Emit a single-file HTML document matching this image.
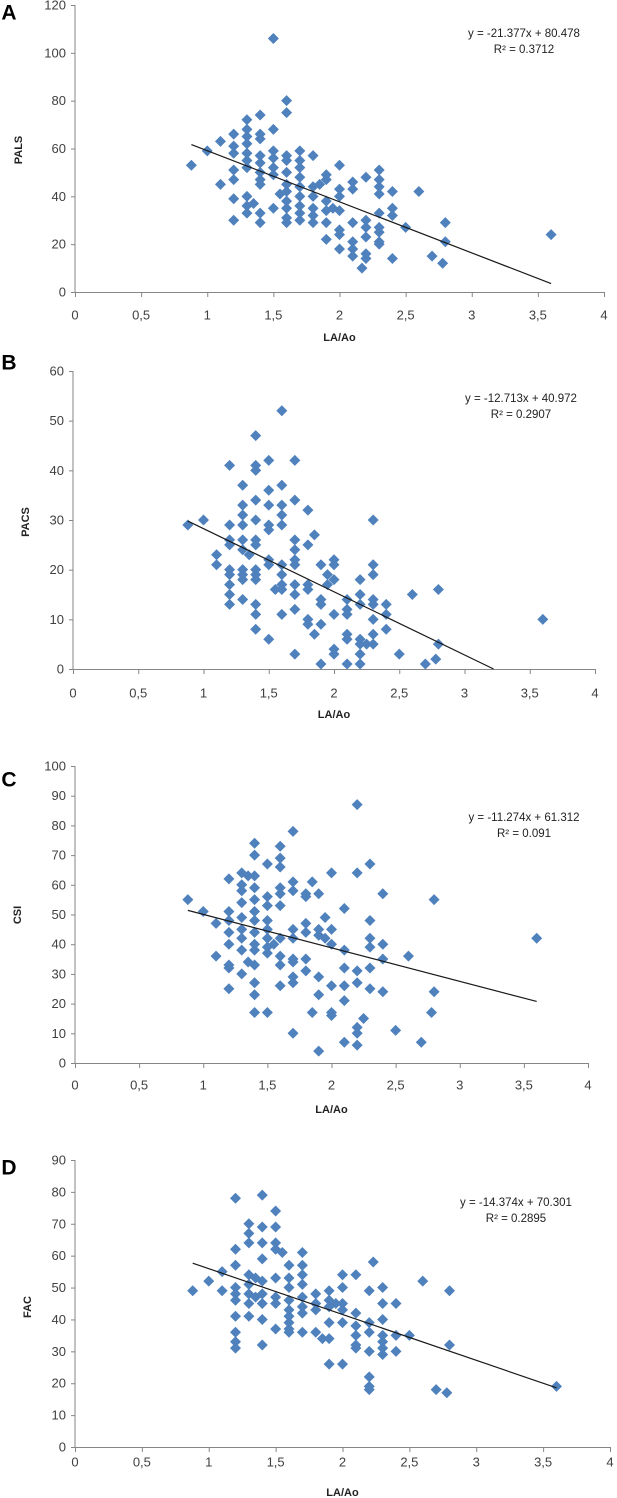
<!DOCTYPE html>
<html><head><meta charset="utf-8"><style>
html,body{margin:0;padding:0;background:#fff;}
svg{display:block;font-family:"Liberation Sans",sans-serif;}
</style></head><body>
<svg id="fig" width="617" height="1498" viewBox="0 0 617 1498" xmlns="http://www.w3.org/2000/svg"></svg>
<script>
const xTicks=[0,0.5,1,1.5,2,2.5,3,3.5,4];
const xTickLabels=["0","0,5","1","1,5","2","2,5","3","3,5","4"];
const aX=[0.88,1.0,1.1,1.1,1.2,1.2,1.2,1.2,1.2,1.2,1.2,1.3,1.3,1.3,1.3,1.3,1.3,1.3,1.3,1.3,1.3,1.35,1.4,1.4,1.4,1.4,1.4,1.4,1.4,1.4,1.4,1.4,1.5,1.5,1.5,1.5,1.5,1.5,1.5,1.6,1.6,1.6,1.6,1.6,1.6,1.6,1.6,1.6,1.6,1.6,1.55,1.7,1.7,1.7,1.7,1.7,1.7,1.7,1.7,1.7,1.8,1.8,1.8,1.8,1.8,1.8,1.85,1.9,1.9,1.9,1.9,1.9,1.9,1.95,2.0,2.0,2.0,2.0,2.0,2.0,2.0,2.1,2.1,2.1,2.1,2.1,2.1,2.2,2.2,2.2,2.2,2.2,2.2,2.17,2.3,2.3,2.3,2.3,2.3,2.3,2.3,2.3,2.3,2.4,2.4,2.4,2.4,2.5,2.6,2.7,2.8,2.8,2.78,3.6];
const aY=[53,59,63,45,66,61,58,51,47,39,30,72,68,65,62,58,55,52,40,36,33,37,74,66,64,57,54,50,47,45,33,29,106,68,59,56,52,49,35,80,75,57,55,50,45,42,38,35,31,29,41,59,55,52,48,44,40,36,33,30,57,44,40,35,32,29,45,49,47,38,34,29,22,35,53,43,40,34,26,24,18,46,43,29,21,18,15,48,30,27,23,16,14,10,51,47,44,41,33,27,25,21,20,42,35,32,14,27,42,15,29,21,12,24];
const bX=[0.88,1.0,1.1,1.1,1.2,1.2,1.2,1.2,1.2,1.2,1.2,1.2,1.2,1.3,1.3,1.3,1.3,1.3,1.3,1.3,1.3,1.3,1.3,1.35,1.4,1.4,1.4,1.4,1.4,1.4,1.4,1.4,1.4,1.4,1.4,1.4,1.4,1.5,1.5,1.5,1.5,1.5,1.5,1.5,1.5,1.55,1.6,1.6,1.6,1.6,1.6,1.6,1.6,1.6,1.6,1.6,1.7,1.7,1.7,1.7,1.7,1.7,1.7,1.7,1.7,1.7,1.8,1.8,1.8,1.8,1.8,1.8,1.85,1.85,1.9,1.9,1.9,1.9,1.9,1.95,1.95,2.0,2.0,2.0,2.0,2.0,2.0,2.1,2.1,2.1,2.1,2.1,2.1,2.2,2.2,2.2,2.2,2.2,2.2,2.2,2.25,2.3,2.3,2.3,2.3,2.3,2.3,2.3,2.3,2.4,2.4,2.4,2.5,2.6,2.7,2.8,2.8,2.78,3.6];
const bY=[29,30,23,21,41,29,26,25,20,19,17,15,13,37,33,31,29,26,24,20,19,18,14,23,47,41,40,34,30,26,25,20,19,18,13,11,8,42,36,33,29,28,22,21,6,16,52,37,33,31,29,21,19,17,16,11,42,34,26,24,22,21,17,15,12,3,32,25,17,16,10,9,27,7,21,14,13,9,1,19,17,22,21,18,11,4,3,14,12,11,7,6,1,18,15,13,6,5,3,1,5,30,21,19,14,13,10,7,5,13,11,8,3,15,1,16,5,2,10];
const cX=[0.88,1.0,1.1,1.1,1.2,1.2,1.2,1.2,1.2,1.2,1.2,1.2,1.3,1.3,1.3,1.3,1.3,1.3,1.3,1.3,1.3,1.35,1.35,1.4,1.4,1.4,1.4,1.4,1.4,1.4,1.4,1.4,1.4,1.4,1.4,1.4,1.4,1.5,1.5,1.5,1.5,1.5,1.5,1.5,1.5,1.5,1.55,1.6,1.6,1.6,1.6,1.6,1.6,1.6,1.6,1.6,1.6,1.7,1.7,1.7,1.7,1.7,1.7,1.7,1.7,1.7,1.7,1.8,1.8,1.8,1.8,1.8,1.8,1.85,1.85,1.9,1.9,1.9,1.9,1.9,1.9,1.95,1.95,2.0,2.0,2.0,2.0,2.0,2.0,2.1,2.1,2.1,2.1,2.1,2.1,2.2,2.2,2.2,2.2,2.2,2.2,2.2,2.25,2.3,2.3,2.3,2.3,2.3,2.3,2.4,2.4,2.4,2.4,2.5,2.6,2.7,2.8,2.8,2.78,3.6];
const cY=[55,51,47,36,62,51,48,44,40,33,32,25,64,60,58,54,49,45,42,38,30,63,34,74,70,63,59,55,51,48,44,40,38,33,27,23,17,67,56,53,48,45,42,39,37,17,40,73,69,66,59,57,53,42,36,33,26,78,61,58,45,42,35,34,29,27,10,57,56,47,44,35,31,61,17,57,45,43,29,23,4,49,42,64,45,40,26,17,16,52,38,32,26,21,7,87,64,31,27,12,10,6,15,67,48,42,39,32,25,57,40,35,24,11,36,7,55,24,17,42];
const dX=[0.88,1.0,1.1,1.1,1.2,1.2,1.2,1.2,1.2,1.2,1.2,1.2,1.2,1.2,1.3,1.3,1.3,1.3,1.3,1.3,1.3,1.3,1.35,1.35,1.4,1.4,1.4,1.4,1.4,1.4,1.4,1.4,1.4,1.5,1.5,1.5,1.5,1.5,1.5,1.5,1.5,1.55,1.6,1.6,1.6,1.6,1.6,1.6,1.6,1.6,1.6,1.7,1.7,1.7,1.7,1.7,1.7,1.7,1.7,1.8,1.8,1.8,1.8,1.85,1.9,1.9,1.9,1.9,1.9,1.9,1.95,2.0,2.0,2.0,2.0,2.0,2.0,2.1,2.1,2.1,2.1,2.1,2.1,2.2,2.2,2.2,2.2,2.2,2.2,2.2,2.23,2.3,2.3,2.3,2.3,2.3,2.3,2.3,2.4,2.4,2.4,2.5,2.6,2.7,2.8,2.8,2.78,3.6];
const dY=[49,52,55,49,78,62,57,50,48,46,41,36,33,31,70,67,64,54,51,48,45,41,53,47,79,69,64,59,52,48,45,40,32,74,69,64,62,53,47,45,37,61,57,53,50,46,43,41,39,37,36,61,57,54,51,47,44,42,36,48,45,43,36,34,49,46,44,39,34,26,45,54,50,45,43,39,26,54,42,38,35,32,31,49,39,36,30,22,19,18,58,50,45,40,35,33,31,29,45,35,30,35,52,18,49,32,17,19];
const slopes=[-21.377,-12.713,-11.274,-14.374];
const intercepts=[80.478,40.972,61.312,70.301];
const r2Labels=["0.3712","0.2907","0.091","0.2895"];
const yMaxes=[120,60,100,90];
const ySteps=[20,10,10,10];
const yTitles=["PALS","PACS","CSI","FAC"];
const letters=["A","B","C","D"];
const seriesX=[aX,bX,cX,dX];
const seriesY=[aY,bY,cY,dY];

const L=[
 {x0:75,x4:604,top:5,bot:292,lab:315,tit:338,ytx:19,yty:150,lx:9,ly:13,ex:524,ey:34},
 {x0:73,x4:595,top:371,bot:669,lab:693,tit:715,ytx:26,yty:522,lx:9,ly:363,ex:521,ey:399},
 {x0:75,x4:588,top:766,bot:1063,lab:1085,tit:1110,ytx:18,yty:915,lx:9,ly:780,ex:524,ey:818},
 {x0:75,x4:610,top:1160,bot:1447,lab:1462,tit:1493,ytx:28,yty:1307,lx:9,ly:1168,ex:516,ey:1203}
];
const NS="http://www.w3.org/2000/svg";
const svg=document.getElementById('fig');
function mk(tag,attrs,parent){const e=document.createElementNS(NS,tag);for(const k in attrs)e.setAttribute(k,attrs[k]);(parent||svg).appendChild(e);return e;}
for(let p=0;p<4;p++){
 const g=mk('g',{});
 
 
 const c=L[p];
 const sx=v=>c.x0+(c.x4-c.x0)*v/4;
 const sy=v=>c.bot-(c.bot-c.top)*v/yMaxes[p];
 const ax=mk('g',{stroke:'#868686','stroke-width':1},g);
 
 
 mk('line',{x1:c.x0,y1:c.top,x2:c.x0,y2:c.bot+0.5},ax);
 mk('line',{x1:c.x0,y1:c.bot+0.5,x2:c.x4,y2:c.bot+0.5},ax);
 for(let v=0;v<=yMaxes[p];v+=ySteps[p]){
  mk('line',{x1:c.x0-4,y1:sy(v)+0.5,x2:c.x0,y2:sy(v)+0.5},ax);
  const t=mk('text',{x:c.x0-9,y:sy(v),'text-anchor':'end','dominant-baseline':'central','font-size':13,fill:'#404040'},g);
  
  
  t.textContent=String(v);
 }
 for(let i=0;i<xTicks.length;i++){
  mk('line',{x1:sx(xTicks[i])+0.5,y1:c.bot,x2:sx(xTicks[i])+0.5,y2:c.bot+5},ax);
  const t=mk('text',{x:sx(xTicks[i]),y:c.lab,'text-anchor':'middle','dominant-baseline':'central','font-size':13,fill:'#404040'},g);
  
  
  t.textContent=xTickLabels[i];
 }
 const xt=mk('text',{x:(c.x0+c.x4)/2,y:c.tit,'text-anchor':'middle','dominant-baseline':'central','font-size':11,'font-weight':'bold',fill:'#222'},g);
 
 
 xt.textContent='LA/Ao';
 const yt=mk('text',{x:c.ytx,y:c.yty,'text-anchor':'middle','dominant-baseline':'central','font-size':11,'font-weight':'bold',fill:'#222',transform:'rotate(-90 '+c.ytx+' '+c.yty+')'},g);
 
 
 yt.textContent=yTitles[p];
 const lt=mk('text',{x:c.lx,y:c.ly,'text-anchor':'middle','dominant-baseline':'central','font-size':21,'font-weight':'bold',fill:'#000'},g);
 
 
 lt.textContent=letters[p];
 const xs=seriesX[p],ys=seriesY[p];
 for(let i=0;i<xs.length;i++){
  const px=sx(xs[i]),py=sy(ys[i]),r=5.5;
  const d=mk('path',{d:`M${px} ${py-r}L${px+r} ${py}L${px} ${py+r}L${px-r} ${py}Z`,fill:'#4f81bd'},g);
  
  
 }
 const xa=Math.min(...xs);
 let xb=Math.max(...xs);
 const zero=-intercepts[p]/slopes[p];
 if(zero<xb)xb=zero;
 const tl=mk('line',{x1:sx(xa),y1:sy(slopes[p]*xa+intercepts[p]),x2:sx(xb),y2:sy(slopes[p]*xb+intercepts[p]),stroke:'#1a1a1a','stroke-width':1.2},g);
 
 
 const e1=mk('text',{x:c.ex,y:c.ey,'text-anchor':'middle','dominant-baseline':'central','font-size':11.5,fill:'#222'},g);
 
 
 e1.textContent='y = '+slopes[p].toFixed(3)+'x + '+intercepts[p].toFixed(3);
 const e2=mk('text',{x:c.ex,y:c.ey+16,'text-anchor':'middle','dominant-baseline':'central','font-size':11.5,fill:'#222'},g);
 
 
 e2.textContent='R² = '+r2Labels[p];
}
</script>
</body></html>
